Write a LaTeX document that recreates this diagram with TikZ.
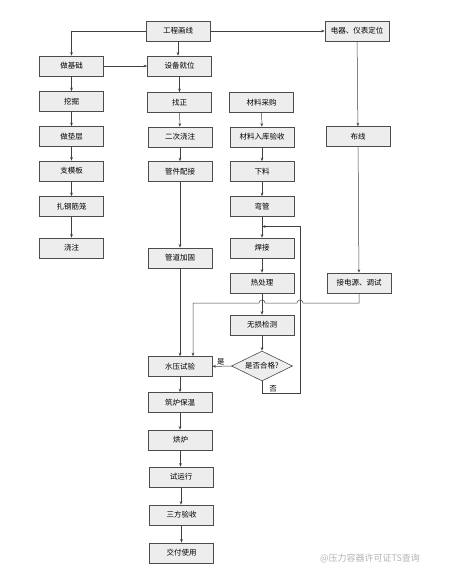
\documentclass[tikz,border=0pt]{standalone}
\usepackage{fontspec}
\newfontfamily\cjk{Noto Sans CJK SC}
\usetikzlibrary{shapes.geometric,arrows.meta}

\begin{document}
\begin{tikzpicture}[x=1pt, y=-1pt,
		box/.style={draw=black!70, fill=black!7, line width=0.6pt, minimum width=64pt, minimum height=20pt, inner sep=0pt, font=\cjk\fontsize{7.5}{9}\selectfont},
		check/.style={diamond, aspect=2, draw=black!70, fill=black!7, line width=0.6pt, minimum width=61pt, minimum height=30pt, inner sep=0pt, font=\cjk\fontsize{7.5}{9}\selectfont},
		link/.style={draw=black!75, line width=0.5pt},
		arr/.style={link, -{Stealth[length=3.5pt, width=2.6pt]}},
		tag/.style={font=\cjk\fontsize{7.5}{9}\selectfont, inner sep=1pt}]
			%%%%% START %%%%%
			\useasboundingbox (0, 0) rectangle (456, 576);
			
			\node[box] (gcx) at (178, 31) {工程画线};
			\node[box] (dqyb) at (357, 31) {电器、仪表定位};
			
			\node[box] (zjc) at (71.5, 66) {做基础};
			\node[box] (wj) at (71.5, 101.5) {挖掘};
			\node[box] (zdc) at (71.5, 136.5) {做垫层};
			\node[box] (zmb) at (71.5, 171) {支模板};
			\node[box] (zgjl) at (71.5, 206.5) {扎钢筋笼};
			\node[box] (jz) at (71.5, 248) {浇注};
			
			\node[box] (sbjw) at (179.5, 66) {设备就位};
			\node[box] (zz) at (179.5, 102.5) {找正};
			\node[box] (ecjz) at (180, 137) {二次浇注};
			\node[box] (gjpj) at (180, 171.5) {管件配接};
			\node[box] (gdjg) at (180, 258) {管道加固};
			
			\node[box] (clcg) at (261.5, 102.5) {材料采购};
			\node[box] (clrk) at (262, 137) {材料入库验收};
			\node[box] (xl) at (262, 171.5) {下料};
			\node[box] (wg) at (262, 206.5) {弯管};
			\node[box] (hj) at (262, 248) {焊接};
			\node[box] (rcl) at (262, 283) {热处理};
			\node[box] (wsjc) at (262, 325) {无损检测};
			\node[check] (sfhg) at (262, 366) {是否合格?};
			
			\node[box] (bx) at (358, 136.5) {布线};
			\node[box] (jdy) at (359, 283) {接电源、调试};
			
			\node[box] (sy) at (180, 366.5) {水压试验};
			\node[box] (zlbw) at (180, 402.5) {筑炉保温};
			\node[box] (hl) at (180.5, 440) {烘炉};
			\node[box] (syx) at (181, 477) {试运行};
			\node[box] (sfys) at (181.5, 515) {三方验收};
			\node[box] (jfsy) at (181.5, 553) {交付使用};
			
			\draw[arr] (gcx.west) -| (zjc.north);
			\draw[arr] (gcx) -- (dqyb);
			\draw[arr] (gcx) -- (gcx |- sbjw.north);
			\draw[arr] (zjc) -- (sbjw);
			
			\draw[arr] (zjc) -- (wj);
			\draw[arr] (wj) -- (zdc);
			\draw[arr] (zdc) -- (zmb);
			\draw[arr] (zmb) -- (zgjl);
			\draw[arr] (zgjl) -- (jz);
			
			\draw[arr] (sbjw) -- (zz);
			\draw[arr] (zz) -- (ecjz);
			\draw[arr] (ecjz) -- (gjpj);
			\draw[arr] (gjpj) -- (gdjg);
			\draw[arr] (gdjg) -- (sy);
			
			\draw[arr] (clcg) -- (clrk);
			\draw[arr] (clrk) -- (xl);
			\draw[arr] (xl) -- (wg);
			\draw[arr] (wg) -- (hj);
			\draw[arr] (hj) -- (rcl);
			\draw[arr] (rcl) -- (wsjc);
			\draw[arr] (wsjc) -- (sfhg);
			
			\draw[arr] (sfhg) -- node[tag, above, pos=0.55] {是} (sy);
			
			\coordinate (back) at (300, 226.5);
			\draw[arr] (sfhg.south) -- ++(0, 12) node[tag, right, pos=0.6, xshift=6pt] {否} -| (back) -- (back -| wg.south);
			
			\draw[arr] (dqyb) -- (bx);
			\draw[arr] (bx) -- (jdy);
			
			\coordinate (turn) at (193, 303);
			\draw[arr] (jdy.south) |- (303, 303) arc (0:-180:3) -- (265, 303) arc (0:-180:3) -- (turn) -- (turn |- sy.north);
			
			\draw[arr] (sy) -- (zlbw);
			\draw[arr] (zlbw) -- (zlbw |- hl.north);
			\draw[arr] (hl) -- (hl |- syx.north);
			\draw[arr] (syx) -- (syx |- sfys.north);
			\draw[arr] (sfys) -- (jfsy);
			
			\node[font=\cjk\fontsize{9}{10}\selectfont, text=black!30] (wm) at (370, 558) {@压力容器许可证TS查询};
			
			%%%%% END %%%%%
		\end{tikzpicture}
\end{document}
